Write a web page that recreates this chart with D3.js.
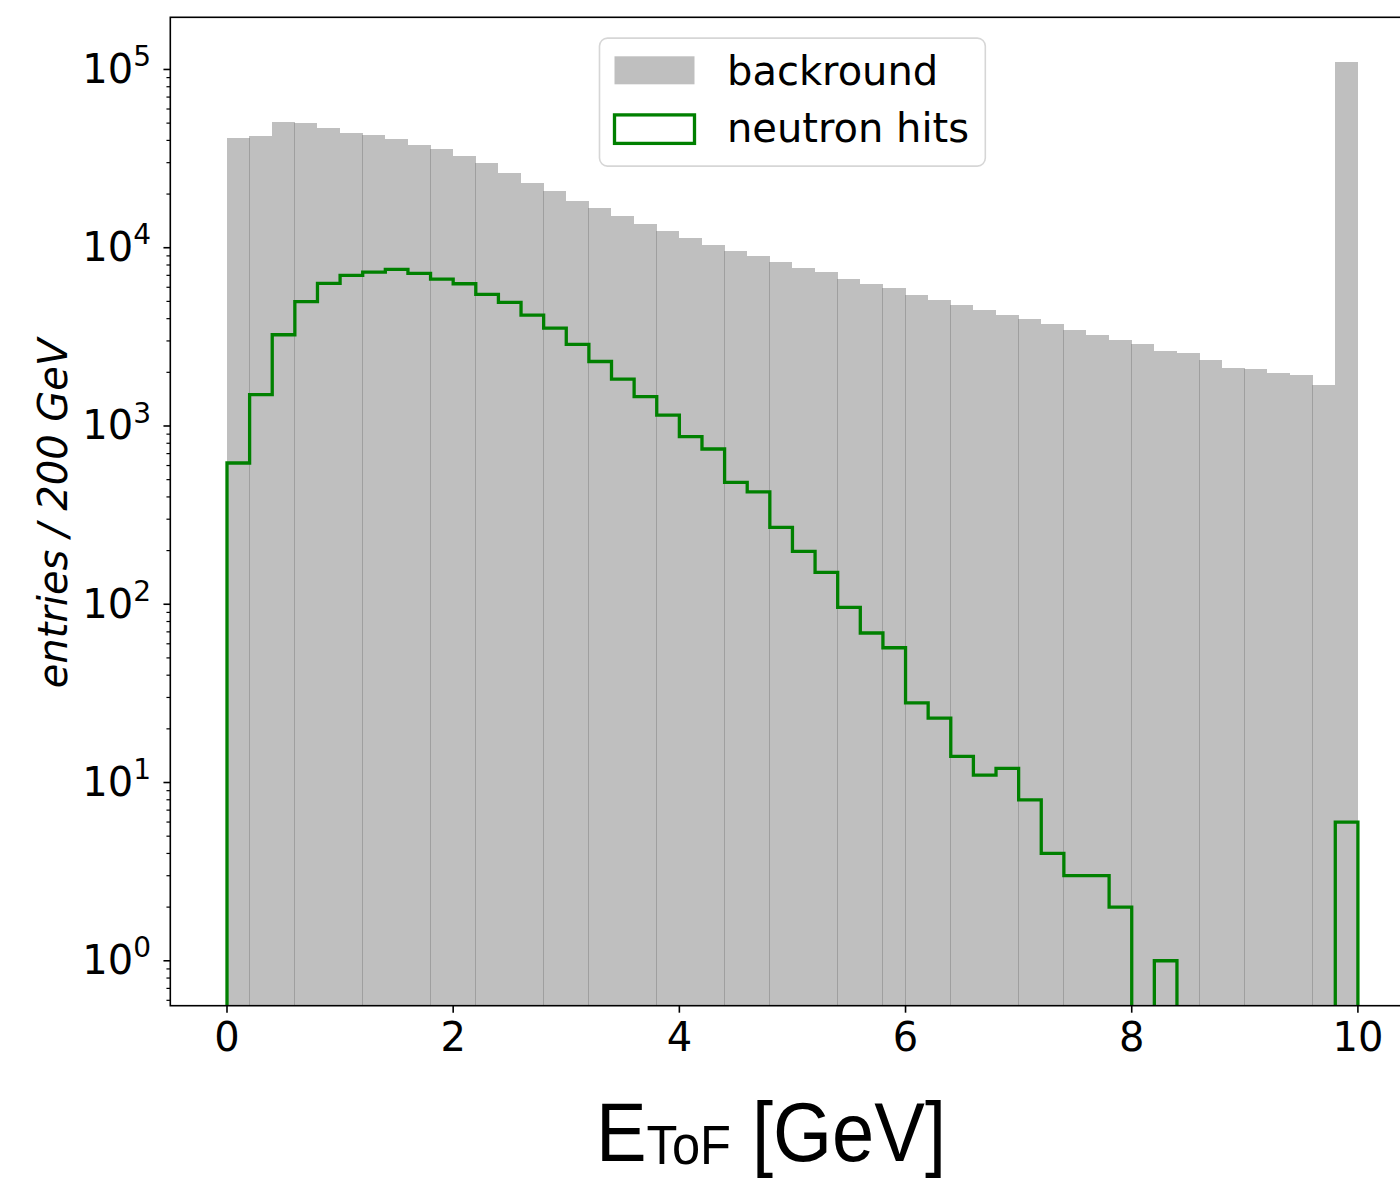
<!DOCTYPE html>
<html>
<head>
<meta charset="utf-8">
<script src="https://cdn.jsdelivr.net/npm/d3@7"></script>
<style>
  html, body { margin: 0; padding: 0; background: #ffffff; }
  svg { display: block; }
</style>
</head>
<body>
<svg id="chart" width="1400" height="1179"></svg>
<script>
// ---------------- data ----------------
const binLow = [0.0, 0.2, 0.4, 0.6, 0.8, 1.0, 1.2, 1.4, 1.6, 1.8,
                2.0, 2.2, 2.4, 2.6, 2.8, 3.0, 3.2, 3.4, 3.6, 3.8,
                4.0, 4.2, 4.4, 4.6, 4.8, 5.0, 5.2, 5.4, 5.6, 5.8,
                6.0, 6.2, 6.4, 6.6, 6.8, 7.0, 7.2, 7.4, 7.6, 7.8,
                8.0, 8.2, 8.4, 8.6, 8.8, 9.0, 9.2, 9.4, 9.6, 9.8];
const binWidth = 0.2;
const background = [41200, 42300, 51000, 50400, 46900, 43800, 42700, 40500, 37900, 36000,
                    32900, 29700, 26400, 23200, 20900, 18400, 16600, 15000, 13500, 12400,
                    11300, 10400, 9540, 8940, 8270, 7660, 7270, 6640, 6230, 5910,
                    5400, 5070, 4750, 4450, 4180, 3970, 3720, 3450, 3240, 3030,
                    2880, 2630, 2570, 2340, 2110, 2090, 1980, 1930, 1700, 109800];
const neutronHits = [620, 1500, 3250, 4980, 6310, 7000, 7300, 7560, 7180, 6670,
                     6280, 5470, 4940, 4190, 3540, 2870, 2300, 1830, 1460, 1150,
                     871, 743, 483, 427, 270, 198, 151, 96, 69, 57,
                     28, 23, 14, 11, 12, 8, 4, 3, 3, 2,
                     0, 1, 0, 0, 0, 0, 0, 0, 0, 6];
const xTicks = [0, 2, 4, 6, 8, 10];
const yMajorExponents = [0, 1, 2, 3, 4, 5];
const legendLabels = ["backround", "neutron hits"];
const yLabel = "entries / 200 GeV";

// ---------------- layout ----------------
const plot = { left: 170.45, right: 1414.45, top: 17.3, bottom: 1005.7 };
const svg = d3.select("#chart");

const xMin = d3.min(binLow), xMax = d3.max(binLow) + binWidth;
const xPad = 0.05 * (xMax - xMin);
const x = d3.scaleLinear().domain([xMin - xPad, xMax + xPad]).range([plot.left, plot.right]);

const allPos = background.concat(neutronHits).filter(v => v > 0);
const lo = Math.log10(d3.min(allPos)), hi = Math.log10(d3.max(allPos));
const yPad = 0.05 * (hi - lo);
const y = d3.scaleLog().domain([Math.pow(10, lo - yPad), Math.pow(10, hi + yPad)]).range([plot.bottom, plot.top]);

svg.append("defs").append("clipPath").attr("id", "plotclip")
  .append("rect")
  .attr("x", plot.left).attr("y", plot.top)
  .attr("width", plot.right - plot.left).attr("height", plot.bottom - plot.top);

const gPlot = svg.append("g").attr("clip-path", "url(#plotclip)");

// background histogram (semi-transparent grey bars, pixel snapped)
gPlot.append("g").selectAll("rect")
  .data(binLow.map((b, i) => ({ x0: b, x1: b + binWidth, v: background[i] })))
  .join("rect")
  .attr("x", d => Math.floor(x(d.x0) + 0.07))
  .attr("width", d => Math.floor(x(d.x1) + 0.47) - Math.floor(x(d.x0) + 0.07))
  .attr("y", d => Math.round(y(d.v)))
  .attr("height", d => Math.ceil(plot.bottom) - Math.round(y(d.v)))
  .attr("fill", "#808080")
  .attr("fill-opacity", 0.5)
  .attr("shape-rendering", "crispEdges");

// neutron hits step outline
const below = plot.bottom + 30;
const pts = [[x(binLow[0]), below]];
binLow.forEach((b, i) => {
  const v = neutronHits[i];
  const yy = v > 0 ? y(v) : below;
  pts.push([x(b), yy]);
  pts.push([x(b + binWidth), yy]);
});
pts.push([x(binLow[binLow.length - 1] + binWidth), below]);
gPlot.append("path")
  .attr("d", d3.line()(pts))
  .attr("fill", "none")
  .attr("stroke", "#008000")
  .attr("stroke-width", 3.3)
  .attr("stroke-linejoin", "miter");

// spines
svg.append("rect")
  .attr("x", plot.left - 0.15).attr("y", plot.top)
  .attr("width", plot.right - plot.left).attr("height", plot.bottom - plot.top)
  .attr("fill", "none").attr("stroke", "#000").attr("stroke-width", 1.6);

// x ticks
const gx = svg.append("g");
xTicks.forEach(t => {
  gx.append("line")
    .attr("x1", x(t)).attr("x2", x(t))
    .attr("y1", plot.bottom).attr("y2", plot.bottom + 7)
    .attr("stroke", "#000").attr("stroke-width", 1.6);
  gx.append("text")
    .attr("x", x(t)).attr("y", 1051)
    .attr("text-anchor", "middle")
    .attr("font-family", "DejaVu Sans")
    .attr("font-size", 40)
    .attr("fill", "#000")
    .text(t);
});

// y ticks
const gy = svg.append("g");
const [dLo, dHi] = y.domain();
yMajorExponents.forEach(e => {
  const v = Math.pow(10, e);
  if (v < dLo || v > dHi) return;
  const yy = y(v);
  gy.append("line")
    .attr("x1", plot.left - 7).attr("x2", plot.left)
    .attr("y1", yy).attr("y2", yy)
    .attr("stroke", "#000").attr("stroke-width", 1.6);
  const t = gy.append("text")
    .attr("x", 151).attr("y", yy + 13.4)
    .attr("text-anchor", "end")
    .attr("font-family", "DejaVu Sans")
    .attr("font-size", 40)
    .attr("fill", "#000");
  t.append("tspan").text("10");
  t.append("tspan").attr("font-size", 28).attr("dy", -16.7).text(String(e));
});
// minor ticks
for (let e = Math.floor(Math.log10(dLo)); e <= Math.ceil(Math.log10(dHi)); e++) {
  for (let m = 2; m <= 9; m++) {
    const v = m * Math.pow(10, e);
    if (v < dLo || v > dHi) continue;
    const yy = y(v);
    gy.append("line")
      .attr("x1", plot.left - 4).attr("x2", plot.left)
      .attr("y1", yy).attr("y2", yy)
      .attr("stroke", "#000").attr("stroke-width", 1.2);
  }
}

// y label
svg.append("text")
  .attr("transform", `translate(67, ${(plot.top + plot.bottom) / 2 + 2}) rotate(-90)`)
  .attr("text-anchor", "middle")
  .attr("font-family", "DejaVu Sans")
  .attr("font-style", "italic")
  .attr("font-size", 40)
  .attr("fill", "#000")
  .text(yLabel);

// x label
const xl = svg.append("text")
  .attr("x", 596).attr("y", 1161)
  .attr("font-family", "'Liberation Sans Narrow', 'Liberation Sans', Arial, sans-serif")
  .attr("font-size", 84)
  .attr("fill", "#000")
  .attr("textLength", 350)
  .attr("lengthAdjust", "spacingAndGlyphs");
xl.append("tspan").text("E");
xl.append("tspan").attr("font-size", 56).attr("dy", 3).text("ToF");
xl.append("tspan").attr("dy", -3).text(" [GeV]");

// legend
const lg = svg.append("g");
lg.append("rect")
  .attr("x", 599.5).attr("y", 38.1).attr("width", 385.8).attr("height", 128)
  .attr("rx", 8).attr("ry", 8)
  .attr("fill", "#ffffff").attr("fill-opacity", 0.8)
  .attr("stroke", "#cccccc").attr("stroke-opacity", 0.8).attr("stroke-width", 1.6);
lg.append("rect")
  .attr("x", 614.5).attr("y", 56.3).attr("width", 80).attr("height", 28)
  .attr("fill", "#808080").attr("fill-opacity", 0.5);
lg.append("rect")
  .attr("x", 614.5).attr("y", 114.9).attr("width", 80).attr("height", 28.5)
  .attr("fill", "none").attr("stroke", "#008000").attr("stroke-width", 3.3);
legendLabels.forEach((lab, i) => {
  lg.append("text")
    .attr("x", 727).attr("y", i === 0 ? 85 : 141.7)
    .attr("font-family", "DejaVu Sans")
    .attr("font-size", 40)
    .attr("fill", "#000")
    .text(lab);
});
</script>
</body>
</html>
